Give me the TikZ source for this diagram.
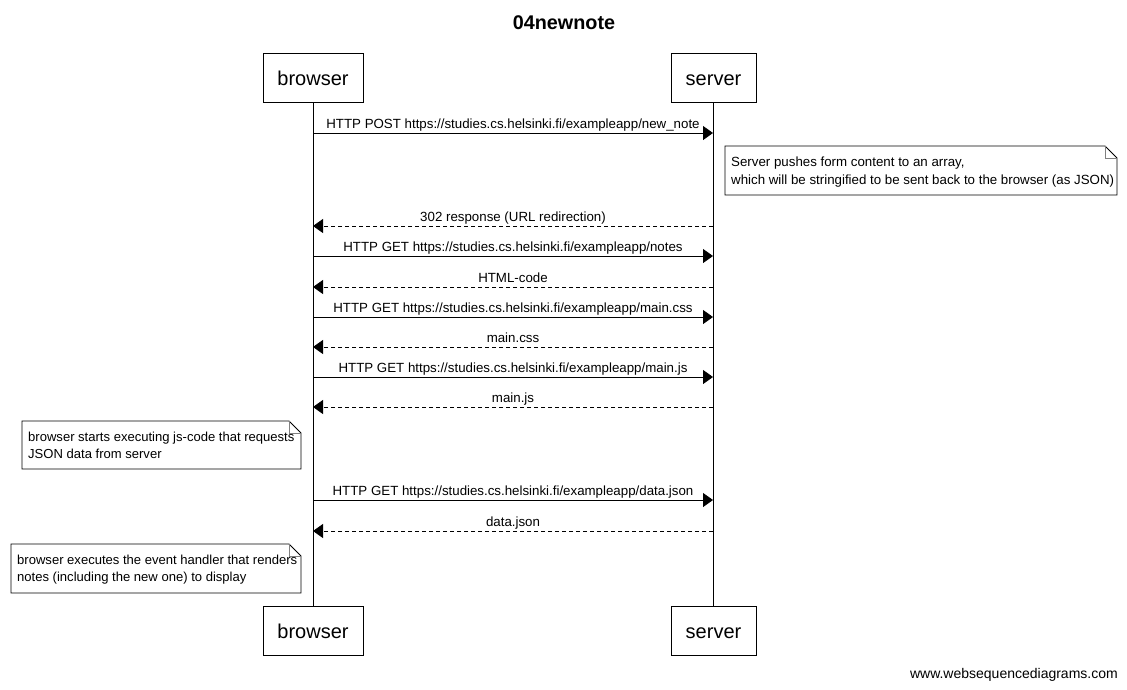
\documentclass[tikz,border=0pt]{standalone}
\usepackage{fontspec}
\setmainfont{Liberation Sans}
\usetikzlibrary{arrows.meta}
\begin{document}
\begin{tikzpicture}[x=1pt,y=-1pt,
  actor/.style={draw,line width=0.8pt,minimum width=100pt,minimum height=49pt,inner sep=0pt,text height=17pt,text depth=2pt,font=\fontsize{20}{24}\selectfont},
  lifeline/.style={line width=0.8pt},
  req/.style={line width=0.8pt,-{Triangle[length=10pt,width=14pt]}},
  resp/.style={line width=0.8pt,dash pattern=on 4pt off 3pt,-{Triangle[length=10pt,width=14pt]}},
  msg/.style={font=\fontsize{13.3}{15}\selectfont,inner sep=1pt,text height=10pt,text depth=3pt},
  notetext/.style={font=\fontsize{13.3}{17.5}\selectfont,align=left,anchor=north west,inner sep=0pt},
  smallnote/.style={font=\fontsize{13.05}{17.5}\selectfont},
  notebox/.style={line width=0.8pt,fill=white},
  fold/.style={line width=0.6pt,draw=gray}
]
\useasboundingbox (0,0) rectangle (1127,689);
% title
\node[font=\bfseries\fontsize{19.8}{24}\selectfont] (title) at (564,23) {04newnote};
% participants
\node[actor] (bt) at (313,77.5) {browser};
\node[actor,minimum width=85pt] (st) at (713.5,77.5) {server};
\node[actor] (bb) at (313,630.5) {browser};
\node[actor,minimum width=85pt] (sb) at (713.5,630.5) {server};
\draw[lifeline] (bt.south) -- (bb.north);
\draw[lifeline] (st.south) -- (sb.north);
% message coordinates
\foreach \n/\y in {1/133,2/226,3/256,4/287,5/317,6/347,7/377,8/407,9/500,10/531}{
  \coordinate (b\n) at (313,\y);
  \coordinate (s\n) at (713,\y);
}
\draw[req] (b1) -- node[msg,above=0pt] (m1) {HTTP POST https://studies.cs.helsinki.fi/exampleapp/new\_note} (s1);
\draw[resp] (s2) -- node[msg,above=0pt] (m2) {302 response (URL redirection)} (b2);
\draw[req] (b3) -- node[msg,above=0pt] (m3) {HTTP GET https://studies.cs.helsinki.fi/exampleapp/notes} (s3);
\draw[resp] (s4) -- node[msg,above=0pt] (m4) {HTML-code} (b4);
\draw[req] (b5) -- node[msg,above=0pt] (m5) {HTTP GET https://studies.cs.helsinki.fi/exampleapp/main.css} (s5);
\draw[resp] (s6) -- node[msg,above=0pt] (m6) {main.css} (b6);
\draw[req] (b7) -- node[msg,above=0pt] (m7) {HTTP GET https://studies.cs.helsinki.fi/exampleapp/main.js} (s7);
\draw[resp] (s8) -- node[msg,above=0pt] (m8) {main.js} (b8);
\draw[req] (b9) -- node[msg,above=0pt] (m9) {HTTP GET https://studies.cs.helsinki.fi/exampleapp/data.json} (s9);
\draw[resp] (s10) -- node[msg,above=0pt] (m10) {data.json} (b10);
% notes
\draw[notebox] (725,146) -- (1105,146) -- (1117,158) -- (1117,195) -- (725,195) -- cycle;
\draw[fold] (1105,146) -- (1105,158) -- (1117,158);
\node[notetext] (n1) at (731,157) {Server pushes form content to an array,\\which will be stringified to be sent back to the browser (as JSON)};
\draw[notebox] (22,421) -- (289,421) -- (301,433) -- (301,469) -- (22,469) -- cycle;
\draw[fold] (289,421) -- (289,433) -- (301,433);
\node[notetext,smallnote] (n2) at (28,431.5) {browser starts executing js-code that requests\\JSON data from server};
\draw[notebox] (11,544) -- (289,544) -- (301,556) -- (301,593) -- (11,593) -- cycle;
\draw[fold] (289,544) -- (289,556) -- (301,556);
\node[notetext,smallnote] (n3) at (17,554.5) {browser executes the event handler that renders\\notes (including the new one) to display};
% watermark
\node[font=\fontsize{14}{16}\selectfont,anchor=east,inner sep=0pt] (wm) at (1118,675) {www.websequencediagrams.com};
\end{tikzpicture}
\end{document}
